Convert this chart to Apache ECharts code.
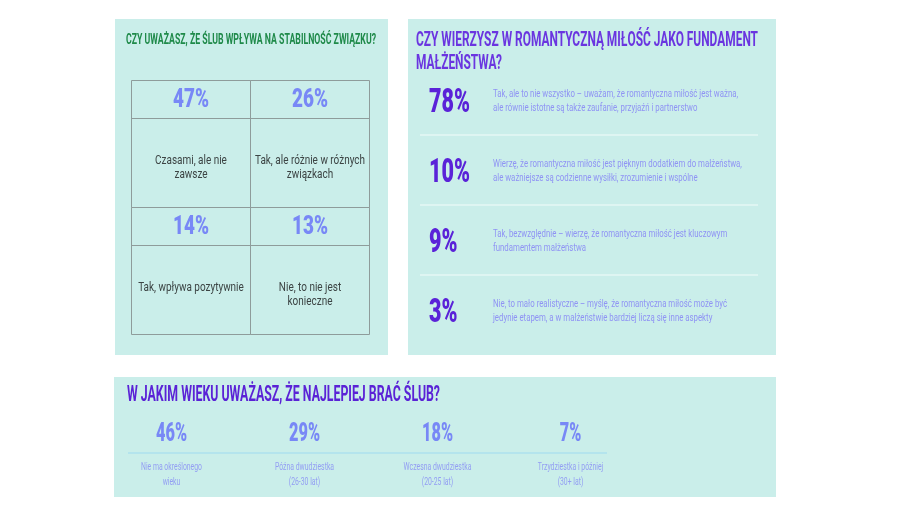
<!DOCTYPE html>
<html>
<head>
<meta charset="utf-8">
<script src="https://cdn.jsdelivr.net/npm/echarts@6/dist/echarts.min.js"></script>
<style>
  html, body { margin: 0; background: #fff; }
  #main { width: 920px; height: 518px; }
</style>
</head>
<body>
<div id="main"></div>
<script>
// --- data ---
const stabilityQuestion = 'CZY UWAŻASZ, ŻE ŚLUB WPŁYWA NA STABILNOŚĆ ZWIĄZKU?';
const stabilityValues = [47, 26, 14, 13];
const stabilityLabels = [
  'Czasami, ale nie\nzawsze',
  'Tak, ale różnie w różnych\nzwiązkach',
  'Tak, wpływa pozytywnie',
  'Nie, to nie jest\nkonieczne'
];

const romanceQuestion = ['CZY WIERZYSZ W ROMANTYCZNĄ MIŁOŚĆ JAKO FUNDAMENT', 'MAŁŻEŃSTWA?'];
const romanceValues = [78, 10, 9, 3];
const romanceLabels = [
  'Tak, ale to nie wszystko – uważam, że romantyczna miłość jest ważna,\nale równie istotne są także zaufanie, przyjaźń i partnerstwo',
  'Wierzę, że romantyczna miłość jest pięknym dodatkiem do małżeństwa,\nale ważniejsze są codzienne wysiłki, zrozumienie i wspólne',
  'Tak, bezwzględnie – wierzę, że romantyczna miłość jest kluczowym\nfundamentem małżeństwa',
  'Nie, to mało realistyczne – myślę, że romantyczna miłość może być\njedynie etapem, a w małżeństwie bardziej liczą się inne aspekty'
];

const ageQuestion = 'W JAKIM WIEKU UWAŻASZ, ŻE NAJLEPIEJ BRAĆ ŚLUB?';
const ageValues = [46, 29, 18, 7];
const ageLabels = [
  'Nie ma określonego\nwieku',
  'Późna dwudziestka\n(26-30 lat)',
  'Wczesna dwudziestka\n(20-25 lat)',
  'Trzydziestka i później\n(30+ lat)'
];

// --- look ---
const FONT = 'Roboto';
const panelBg = '#caeeea';
const lightViolet = '#7888f6';
const darkViolet = '#5a22d8';

// the source uses a condensed face, so text is squeezed horizontally
const measureCtx = document.createElement('canvas').getContext('2d');
function fit(text, weight, size, width) {
  measureCtx.font = weight + ' ' + size + 'px ' + FONT;
  return width / measureCtx.measureText(text).width;
}
function txt(x, y, text, o) {
  return {
    type: 'text', x: x, y: y, scaleX: o.scale || 1,
    style: {
      text: text, fill: o.color, fontFamily: FONT, fontSize: o.size,
      fontWeight: o.weight || 400, align: o.align || 'center',
      verticalAlign: o.va || 'middle', lineHeight: o.lh || o.size
    }
  };
}

const sTableNum = fit('47%', 900, 26, 36);
const sTableTxt = fit('Tak, ale różnie w różnych', 400, 13, 110);
const sRomNum = fit('78%', 900, 34, 41);
const sRomTxt = fit(romanceLabels[0].split('\n')[0], 400, 11, 245);
const sAgeNum = fit('46%', 900, 26, 31);
const sAgeTxt = fit('Nie ma określonego', 400, 11, 61);
const sT1 = fit(stabilityQuestion, 700, 14, 250);
const sT2 = fit(romanceQuestion[0], 700, 20, 342);
const sT3 = fit(ageQuestion, 700, 22, 313);

const chart = echarts.init(document.getElementById('main'));

const option = {
  backgroundColor: '#ffffff',
  animation: false,
  graphic: [
    { type: 'rect', shape: { x: 115, y: 19, width: 273, height: 336 }, style: { fill: panelBg } },
    { type: 'rect', shape: { x: 408, y: 19, width: 368, height: 336 }, style: { fill: panelBg } },
    { type: 'rect', shape: { x: 114, y: 377, width: 662, height: 120 }, style: { fill: panelBg } },
    txt(251, 40, stabilityQuestion, { color: '#1f8a4a', size: 14, weight: 700, scale: sT1 }),
    txt(416, 41, romanceQuestion[0], { color: '#6a35e0', size: 20, weight: 700, scale: sT2, align: 'left' }),
    txt(416, 64, romanceQuestion[1], { color: '#6a35e0', size: 20, weight: 700, scale: sT2, align: 'left' }),
    txt(127, 395, ageQuestion, { color: '#5a22d6', size: 22, weight: 700, scale: sT3, align: 'left' }),
    { type: 'line', shape: { x1: 128, y1: 453, x2: 607, y2: 453 }, style: { stroke: '#ade0ee', lineWidth: 1.5 } }
  ],
  grid: [
    { left: 131.5, top: 80.5, width: 238, height: 254 },
    { left: 420, top: 66, width: 338, height: 280 },
    { left: 105, top: 410, width: 532, height: 48 }
  ],
  xAxis: [
    { gridIndex: 0, type: 'category', data: ['a', 'b'], show: false },
    { gridIndex: 1, type: 'value', min: 0, max: 1, show: false },
    { gridIndex: 2, type: 'category', data: ageLabels, show: false }
  ],
  yAxis: [
    { gridIndex: 0, type: 'category', data: ['r1', 'r2'], inverse: true, show: false },
    { gridIndex: 1, type: 'category', data: romanceLabels, inverse: true, show: false },
    { gridIndex: 2, type: 'category', data: [''], show: false }
  ],
  series: [
    {
      // 2x2 table: number row on top, answer below
      type: 'custom', xAxisIndex: 0, yAxisIndex: 0,
      data: stabilityValues.map((v, i) => [i % 2, Math.floor(i / 2), v]),
      renderItem: function (params, api) {
        const c = api.coord([api.value(0), api.value(1)]);
        const s = api.size([1, 1]);
        const left = c[0] - s[0] / 2, top = c[1] - s[1] / 2;
        const line = { stroke: '#8e9c9b', lineWidth: 1, fill: null };
        return {
          type: 'group',
          children: [
            { type: 'rect', shape: { x: left, y: top, width: s[0], height: s[1] }, style: line },
            { type: 'line', shape: { x1: left, y1: top + 38, x2: left + s[0], y2: top + 38 }, style: line },
            txt(c[0], top + 20, api.value(2) + '%', { color: lightViolet, size: 26, weight: 900, scale: sTableNum }),
            txt(c[0], top + 73, stabilityLabels[params.dataIndex], { color: '#3c4444', size: 13, lh: 14, va: 'top', scale: sTableTxt })
          ]
        };
      }
    },
    {
      type: 'custom', xAxisIndex: 1, yAxisIndex: 1,
      data: romanceValues.map((v, i) => [0, i, v]),
      renderItem: function (params, api) {
        const i = api.value(1);
        const c = api.coord([0, i]);
        const r = api.coord([1, i]);
        const h = api.size([0, 1])[1];
        const kids = [
          txt(c[0] + 9, c[1] + 2, api.value(2) + '%', { color: darkViolet, size: 34, weight: 900, scale: sRomNum, align: 'left' }),
          txt(c[0] + 73, c[1], romanceLabels[i], { color: '#8f93f4', size: 11, lh: 13.5, scale: sRomTxt, align: 'left' })
        ];
        if (i > 0) {
          kids.push({ type: 'line', shape: { x1: c[0], y1: c[1] - h / 2 - 1, x2: r[0], y2: c[1] - h / 2 - 1 },
                      style: { stroke: '#e4f7f5', lineWidth: 1.5 } });
        }
        return { type: 'group', children: kids };
      }
    },
    {
      type: 'custom', xAxisIndex: 2, yAxisIndex: 2,
      data: ageValues.map((v, i) => [i, 0, v]),
      renderItem: function (params, api) {
        const c = api.coord([api.value(0), 0]);
        return {
          type: 'group',
          children: [
            txt(c[0], c[1], api.value(2) + '%', { color: lightViolet, size: 26, weight: 900, scale: sAgeNum }),
            txt(c[0], c[1] + 26, ageLabels[params.dataIndex], { color: '#939ef3', size: 11, lh: 15, va: 'top', scale: sAgeTxt })
          ]
        };
      }
    }
  ]
};

chart.setOption(option);
</script>
</body>
</html>
